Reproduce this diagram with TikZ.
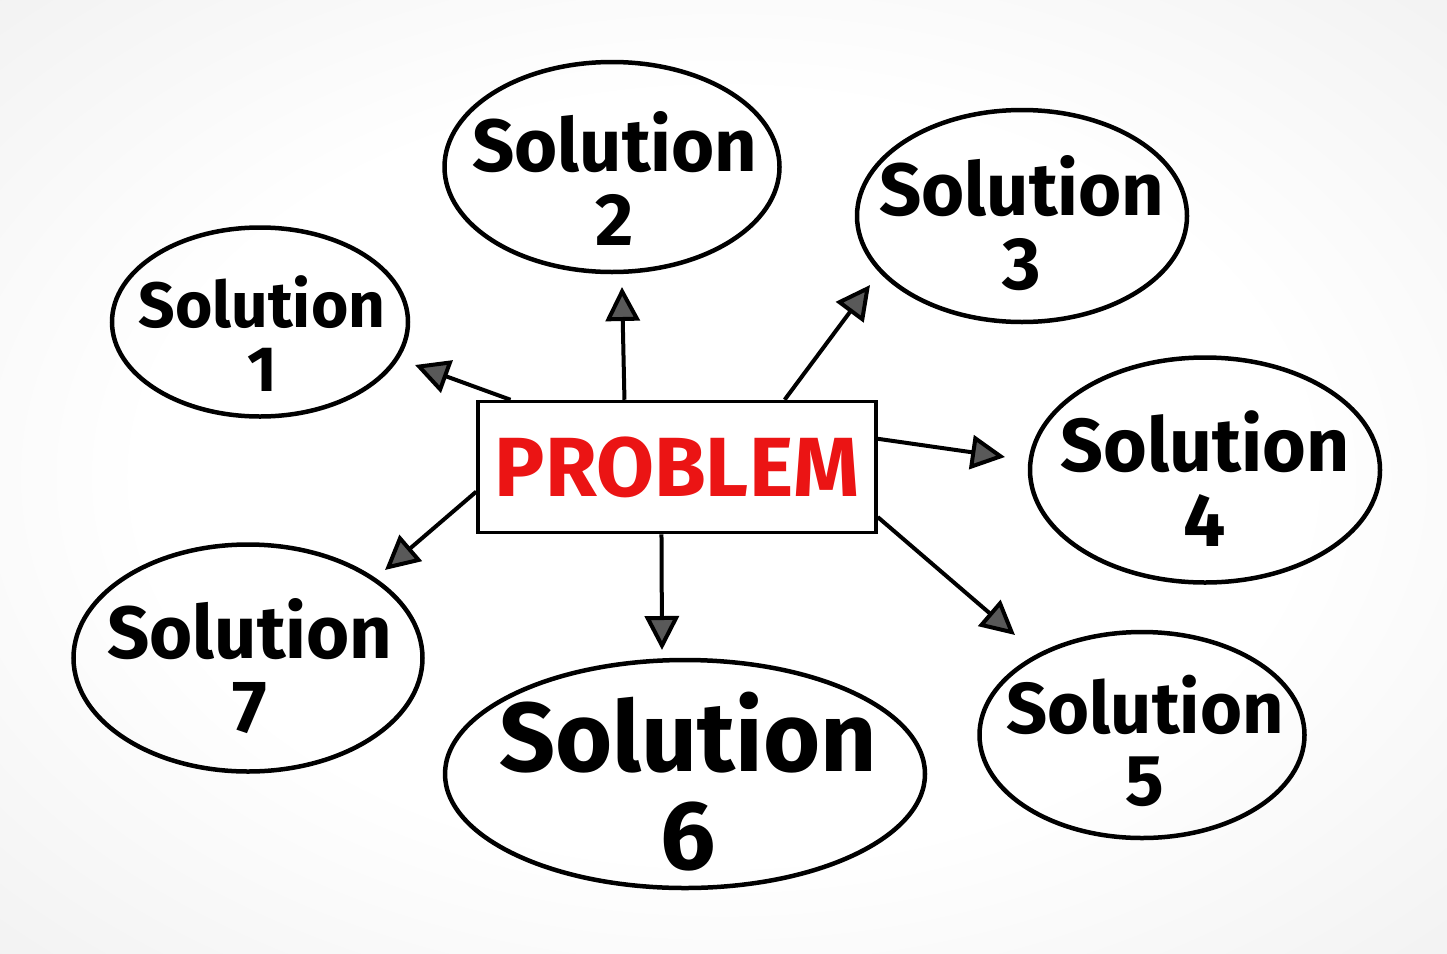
\documentclass[tikz,border=0pt]{standalone}
\usepackage{fontspec}
\setsansfont{Fira Sans}
\usetikzlibrary{shapes.geometric,arrows.meta}
\definecolor{probred}{RGB}{235,20,20}
\pgfdeclareradialshading{bgglow}{\pgfpoint{0bp}{0bp}}{color(0bp)=(white); color(20bp)=(white); color(45bp)=(black!8); color(71bp)=(black!12)}
\begin{document}
\begin{tikzpicture}[x=1pt,y=-1pt,
    ring/.style={draw,ellipse,line width=4.5pt,inner sep=0pt},
    soltext/.style={align=center,inner sep=0pt,
      font=\sffamily\bfseries\fontsize{#1}{#1}\selectfont},
    prob/.style={draw,fill=white,line width=3.5pt,inner sep=0pt,text=probred,
      font=\sffamily\bfseries\fontsize{84}{84}\selectfont},
    link/.style={line width=4pt,-{Triangle[length=34pt,width=34pt,fill=black!65]}}]
    \useasboundingbox (0,0) rectangle (1447,953);
    \shade[shading=bgglow] (0,0) rectangle (1447,953);

    \node[prob,minimum width=398,minimum height=131] (prb) at (677,467) {PROBLEM};

    \node[ring,minimum width=296,minimum height=189] (s1) at (260,322) {};
    \node[ring,minimum width=335,minimum height=210] (s2) at (612,167) {};
    \node[ring,minimum width=330,minimum height=212] (s3) at (1022,216) {};
    \node[ring,minimum width=350,minimum height=225] (s4) at (1205,470) {};
    \node[ring,minimum width=325,minimum height=206] (s5) at (1142,735) {};
    \node[ring,minimum width=480,minimum height=228] (s6) at (685,774) {};
    \node[ring,minimum width=349,minimum height=227] (s7) at (248,658) {};

    \node[soltext=64] (s1t) at (262,334) {Solution\\1};
    \node[soltext=74] (s2t) at (615,178) {Solution\\2};
    \node[soltext=74] (s3t) at (1022,223) {Solution\\3};
    \node[soltext=75] (s4t) at (1205,479) {Solution\\4};
    \node[soltext=72] (s5t) at (1145,741) {Solution\\5};
    \node[soltext=98] (s6t) at (688,782) {Solution\\6};
    \node[soltext=74] (s7t) at (250,666) {Solution\\7};

    \coordinate (t1) at (415,365);
    \coordinate (t2) at (622,287);
    \coordinate (t3) at (870,285);
    \coordinate (t4) at (1005,457);
    \coordinate (t5) at (1015,635);
    \coordinate (t6) at (662,650);
    \coordinate (t7) at (385,570);

    \draw[link] (prb.158) -- (t1);
    \draw[link] (prb.128) -- (t2);
    \draw[link] (prb.32) -- (t3);
    \draw[link] (prb.8) -- (t4);
    \draw[link] (prb.-14) -- (t5);
    \draw[link] (prb.257) -- (t6);
    \draw[link] (prb.187) -- (t7);
\end{tikzpicture}
\end{document}
